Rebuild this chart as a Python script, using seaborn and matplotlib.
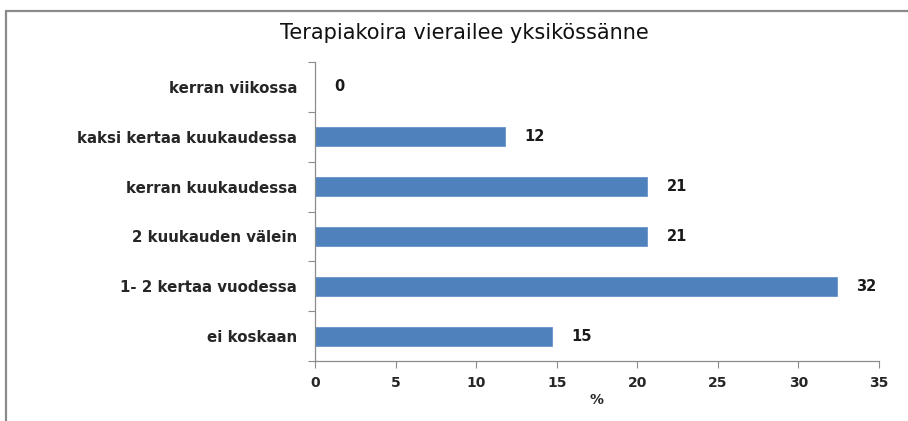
import seaborn as sns
import matplotlib.pyplot as plt
import pandas as pd
import numpy as np
from matplotlib.lines import Line2D

categories = ['kerran viikossa', 'kaksi kertaa kuukaudessa', 'kerran kuukaudessa',
              '2 kuukauden välein', '1- 2 kertaa vuodessa', 'ei koskaan']
percent = [0.0, 11.8, 20.6, 20.6, 32.4, 14.7]
x_ticks = [0, 5, 10, 15, 20, 25, 30, 35]

title = 'Terapiakoira vierailee yksikössänne'
bar_color = '#4F81BD'
axis_gray = '#8C8C8C'

df = pd.DataFrame({'kategoria': categories, 'prosentti': percent})

sns.set_theme(style='white')
plt.rcParams['font.family'] = ['DejaVu Sans']

fig = plt.figure(figsize=(9.08, 4.21), dpi=100)
ax = fig.add_axes([315 / 908, 60 / 421, 564 / 908, 299 / 421])

sns.barplot(data=df, x='prosentti', y='kategoria', order=categories,
            color=bar_color, saturation=1, width=0.38, ax=ax,
            edgecolor='#6A95CC', linewidth=0.6)

ax.set_xlim(0, 35)
ax.set_ylim(5.5, -0.5)
ax.set_xticks(x_ticks)
ax.set_xticklabels([str(t) for t in x_ticks], fontsize=10, fontweight='bold')
ax.set_yticks(range(len(categories)))
ax.set_yticklabels(categories, fontsize=10.8, fontweight='bold')
ax.set_yticks(np.arange(-0.5, len(categories), 1), minor=True)
ax.tick_params(axis='y', which='major', length=0, pad=13)
ax.tick_params(axis='y', which='minor', length=5, width=0.8, color=axis_gray, direction='out', left=True)
ax.tick_params(axis='x', which='major', length=5, width=0.8, color=axis_gray, direction='out', bottom=True, pad=6)

for side in ['top', 'right']:
    ax.spines[side].set_visible(False)
for side in ['left', 'bottom']:
    ax.spines[side].set_color(axis_gray)
    ax.spines[side].set_linewidth(0.9)

ax.set_xlabel('%', fontsize=10, fontweight='bold', labelpad=2)
ax.set_ylabel('')

for i, v in enumerate(percent):
    ax.annotate(f'{v:.0f}', xy=(v, i), xytext=(14, 0), textcoords='offset points',
                va='center', ha='left', fontsize=10.5, fontweight='bold', color='#1a1a1a')

fig.text(464 / 908, 1 - 33 / 421, title, ha='center', va='center', fontsize=15,
         fontweight='medium', color='#111111')

# outer chart frame (top and left edges only visible)
fig.add_artist(Line2D([6 / 908, 6 / 908], [0, 1 - 10.5 / 421], transform=fig.transFigure,
                      color='#8A8A8A', linewidth=1.6))
fig.add_artist(Line2D([6 / 908, 1], [1 - 10.5 / 421, 1 - 10.5 / 421], transform=fig.transFigure,
                      color='#8A8A8A', linewidth=1.6))

fig.savefig('out.png', dpi=100)
